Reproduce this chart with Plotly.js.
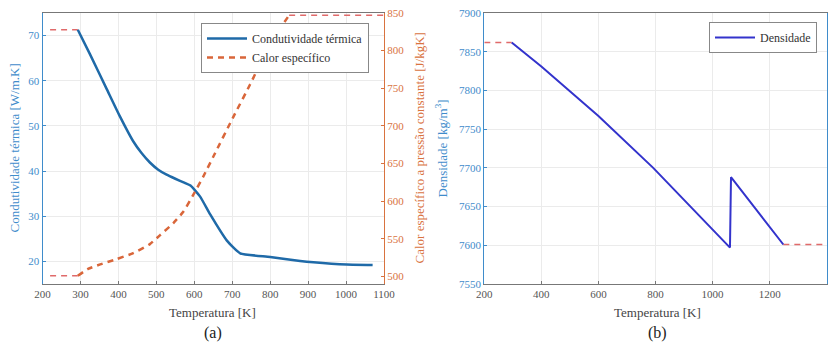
<!DOCTYPE html>
<html>
<head>
<meta charset="utf-8">
<script src="https://cdn.plot.ly/plotly-3.0.1.min.js"></script>
<style>html,body{margin:0;padding:0;background:#fff;}#chart{width:828px;height:347px;}</style>
</head>
<body>
<div id="chart"></div>
<script>
// (a) Thermal conductivity vs temperature
const kTemp = [293, 325, 369, 404, 439, 461, 483, 505, 527, 550, 575, 590, 615, 642, 686, 721, 800, 879, 914, 1002, 1070];
const kVal  = [71.3, 65.9, 58.2, 52.1, 46.6, 44.0, 41.9, 40.3, 39.2, 38.3, 37.4, 36.8, 34.4, 30.4, 24.6, 21.8, 21.0, 20.1, 19.8, 19.3, 19.2];
// (a) Specific heat vs temperature
const cpTemp = [293, 320, 352, 395, 439, 483, 510, 545, 571, 598, 624, 650, 703, 747, 782, 820, 850];
const cpVal  = [501, 510, 516, 523, 531, 543, 555, 571, 586, 609, 633, 659, 712, 755, 791, 825, 847];
// (a) constant extrapolations (red dashed)
const kExtTemp = [220, 293];
const kExtVal = [71.3, 71.3];
const cpExtLowTemp = [220, 293];
const cpExtLowVal = [501, 501];
const cpExtHighTemp = [850, 1100];
const cpExtHighVal = [847, 847];
// (b) Density vs temperature
const rhoTemp = [296, 400, 600, 792, 1061, 1064.6, 1248];
const rhoVal  = [7862, 7831, 7767, 7700, 7597, 7688, 7601];
const rhoExtLowTemp = [200, 296];
const rhoExtLowVal = [7862, 7862];
const rhoExtHighTemp = [1248, 1400];
const rhoExtHighVal = [7601, 7601];

const serif = 'Liberation Serif, Times New Roman, serif';
const blue = '#3f8ccb';
const orange = '#d9733f';
const kColor = '#1f6aa8';
const cpColor = '#d9663a';
const rhoColor = '#3333cc';
const extRed = '#e06a6a';

const traces = [
  {x: kExtTemp, y: kExtVal, xaxis: 'x', yaxis: 'y', mode: 'lines', line: {color: extRed, width: 1.5, dash: '6px,5px'}, showlegend: false},
  {x: kTemp, y: kVal, xaxis: 'x', yaxis: 'y', mode: 'lines', name: 'Condutividade térmica', line: {color: kColor, width: 2.5, shape: 'spline', smoothing: 0.5}, legend: 'legend'},
  {x: cpTemp, y: cpVal, xaxis: 'x', yaxis: 'y2', mode: 'lines', name: 'Calor específico', line: {color: cpColor, width: 2.5, dash: '6px,5px', shape: 'spline', smoothing: 0.5}, legend: 'legend'},
  {x: cpExtLowTemp, y: cpExtLowVal, xaxis: 'x', yaxis: 'y2', mode: 'lines', line: {color: extRed, width: 1.5, dash: '6px,5px'}, showlegend: false},
  {x: cpExtHighTemp, y: cpExtHighVal, xaxis: 'x', yaxis: 'y2', mode: 'lines', line: {color: extRed, width: 1.5, dash: '6px,5px'}, showlegend: false},
  {x: rhoExtLowTemp, y: rhoExtLowVal, xaxis: 'x2', yaxis: 'y3', mode: 'lines', line: {color: extRed, width: 1.5, dash: '6px,5px'}, showlegend: false},
  {x: rhoExtHighTemp, y: rhoExtHighVal, xaxis: 'x2', yaxis: 'y3', mode: 'lines', line: {color: extRed, width: 1.5, dash: '6px,5px'}, showlegend: false},
  {x: rhoTemp, y: rhoVal, xaxis: 'x2', yaxis: 'y3', mode: 'lines', name: 'Densidade', line: {color: rhoColor, width: 2}, legend: 'legend2'}
];

const tickFont = (c) => ({family: serif, size: 11, color: c});
const gridC = '#ebebeb';
const W = 828, T = 13, B = 284, H = B - T;
const px = (v) => v / W;
const py = (v) => (B - v) / H;

const layout = {
  width: 828, height: 347,
  margin: {l: 0, r: 0, t: 13, b: 63},
  paper_bgcolor: '#fff', plot_bgcolor: '#fff',
  font: {family: serif, size: 11, color: '#444'},
  xaxis: {domain: [px(42.5), px(384)], range: [200, 1100], dtick: 100, tick0: 200, showgrid: true, gridcolor: gridC,
          showline: true, linecolor: '#777', mirror: true, ticks: 'inside', ticklen: 3, tickcolor: '#777',
          tickfont: tickFont('#555'), zeroline: false, anchor: 'y'},
  yaxis: {domain: [0, 1], range: [15, 75], tickvals: [20, 30, 40, 50, 60, 70], showgrid: true, gridcolor: gridC,
          showline: true, linecolor: blue, mirror: false, ticks: 'inside', ticklen: 3, tickcolor: blue,
          tickfont: tickFont(blue), zeroline: false, anchor: 'x'},
  yaxis2: {overlaying: 'y', side: 'right', anchor: 'x', range: [490, 850], tickvals: [500, 550, 600, 650, 700, 750, 800, 850],
          showgrid: false, showline: true, linecolor: orange, ticks: 'inside', ticklen: 3, tickcolor: orange,
          tickfont: tickFont(orange), zeroline: false},
  xaxis2: {domain: [px(484.3), px(826.7)], range: [200, 1400], dtick: 200, tick0: 200, showgrid: true, gridcolor: gridC,
          showline: true, linecolor: '#777', mirror: true, ticks: 'inside', ticklen: 3, tickcolor: '#777',
          tickfont: tickFont('#555'), zeroline: false, anchor: 'y3'},
  yaxis3: {domain: [0, 1], range: [7550, 7900], dtick: 50, tick0: 7550, showgrid: true, gridcolor: gridC,
          showline: true, linecolor: blue, mirror: true, ticks: 'inside', ticklen: 3, tickcolor: blue,
          tickfont: tickFont(blue), zeroline: false, anchor: 'x2'},
  legend: {x: px(369), y: py(23), xanchor: 'right', yanchor: 'top', bgcolor: '#fff', bordercolor: '#888', borderwidth: 1,
           font: {family: serif, size: 12, color: '#333'}, itemwidth: 40, tracegroupgap: 0},
  legend2: {x: px(817), y: py(22), xanchor: 'right', yanchor: 'top', bgcolor: '#fff', bordercolor: '#888', borderwidth: 1,
           font: {family: serif, size: 12, color: '#333'}, itemwidth: 40},
  annotations: [
    {text: 'Condutividade térmica [W/m.K]', x: px(14), y: 0.5, xref: 'paper', yref: 'paper', textangle: -90, showarrow: false,
     font: {family: serif, size: 13, color: blue}, xanchor: 'center', yanchor: 'middle'},
    {text: 'Calor específico a pressão constante [J/kgK]', x: px(419), y: 0.5, xref: 'paper', yref: 'paper', textangle: -90, showarrow: false,
     font: {family: serif, size: 13, color: orange}, xanchor: 'center', yanchor: 'middle'},
    {text: 'Densidade [kg/m<sup>3</sup>]', x: px(441), y: 0.5, xref: 'paper', yref: 'paper', textangle: -90, showarrow: false,
     font: {family: serif, size: 13, color: blue}, xanchor: 'center', yanchor: 'middle'},
    {text: 'Temperatura [K]', x: px(213), y: py(312), xref: 'paper', yref: 'paper', showarrow: false,
     font: {family: serif, size: 13, color: '#444'}, xanchor: 'center', yanchor: 'middle'},
    {text: 'Temperatura [K]', x: px(657), y: py(312), xref: 'paper', yref: 'paper', showarrow: false,
     font: {family: serif, size: 13, color: '#444'}, xanchor: 'center', yanchor: 'middle'},
    {text: '(a)', x: px(213), y: py(333), xref: 'paper', yref: 'paper', showarrow: false,
     font: {family: serif, size: 16, color: '#222'}, xanchor: 'center', yanchor: 'middle'},
    {text: '(b)', x: px(657), y: py(333), xref: 'paper', yref: 'paper', showarrow: false,
     font: {family: serif, size: 16, color: '#222'}, xanchor: 'center', yanchor: 'middle'}
  ]
};

Plotly.newPlot('chart', traces, layout, {displayModeBar: false, staticPlot: true});
</script>
</body>
</html>
